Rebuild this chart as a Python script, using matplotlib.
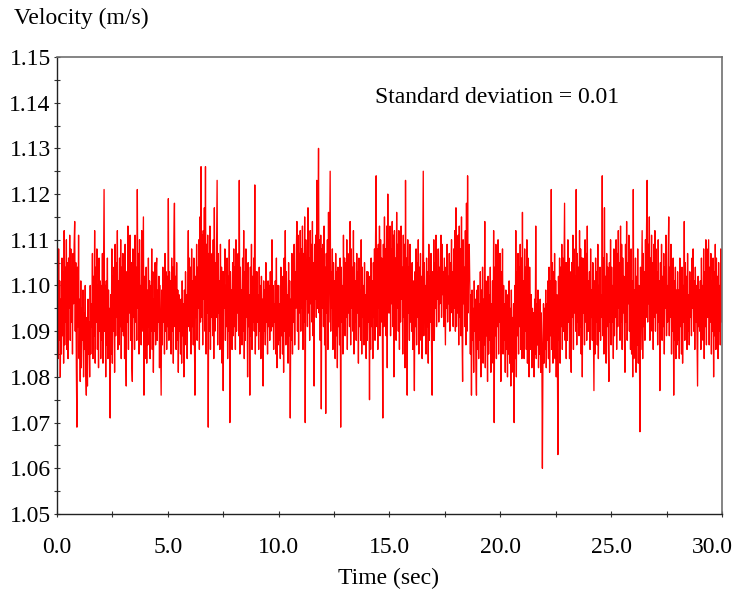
"""Velocity time trace with standard deviation note."""

import matplotlib

matplotlib.use("Agg")

import matplotlib.pyplot as plt
import numpy as np
from matplotlib.ticker import FormatStrFormatter, MultipleLocator, NullFormatter

OUTPUT_PATH = "out.png"
SAMPLE_STEP = 0.025  # sec between samples

# Velocity samples, in thousandths of m/s above 1 m/s.
# One line per second of record.
VEL_0_5 = [
    81, 98, 84, 108, 88, 101, 80, 97, 85, 106, 89, 103, 83, 112, 87, 104, 92, 110, 86, 105,
    84, 106, 95, 111, 88, 108, 92, 104, 85, 107, 96, 109, 114, 90, 105, 82, 69, 104, 91, 111,
    84, 97, 79, 101, 82, 95, 88, 99, 80, 94, 86, 100, 81, 76, 93, 78, 97, 85, 92, 80,
    100, 85, 96, 91, 107, 84, 102, 89, 112, 83, 104, 92, 108, 86, 100, 82, 106, 90, 101, 84,
    100, 88, 107, 83, 104, 121, 90, 100, 80, 101, 87, 106, 84, 99, 91, 95, 71, 98, 85, 108,
    83, 102, 90, 104, 81, 109, 89, 105, 93, 112, 86, 101, 87, 106, 91, 110, 84, 104, 90, 107,
    89, 105, 84, 109, 87, 78, 103, 92, 113, 86, 107, 94, 111, 88, 105, 83, 79, 108, 93, 101,
    86, 111, 92, 104, 88, 121, 95, 107, 85, 110, 92, 100, 87, 112, 90, 103, 115, 76, 102, 84,
    88, 104, 83, 99, 87, 106, 91, 101, 84, 100, 90, 108, 86, 103, 81, 97, 90, 105, 87, 103,
    106, 88, 99, 92, 102, 82, 100, 88, 76, 99, 87, 104, 92, 101, 85, 107, 90, 103, 86, 102,
]
VEL_5_10 = [
    91, 119, 88, 103, 94, 101, 85, 106, 90, 104, 83, 109, 118, 91, 102, 86, 105, 88, 99, 81,
    98, 90, 94, 85, 97, 83, 101, 89, 96, 80, 99, 87, 103, 91, 98, 84, 100, 112, 91, 106,
    90, 104, 85, 108, 91, 101, 87, 106, 89, 76, 102, 93, 109, 88, 104, 95, 110, 86, 115, 92,
    126, 93, 111, 87, 112, 97, 117, 90, 126, 85, 109, 94, 111, 69, 107, 90, 113, 86, 106, 93,
    107, 89, 110, 84, 117, 90, 105, 93, 108, 123, 87, 107, 94, 101, 86, 109, 92, 104, 83, 103,
    77, 103, 95, 108, 88, 100, 91, 106, 84, 102, 90, 110, 70, 103, 93, 99, 86, 105, 89, 108,
    91, 104, 86, 110, 90, 101, 94, 107, 89, 123, 85, 104, 92, 99, 87, 106, 90, 112, 84, 103,
    88, 108, 93, 101, 80, 105, 91, 98, 76, 104, 89, 109, 86, 102, 92, 106, 90, 122, 85, 103,
    89, 103, 92, 98, 86, 104, 90, 100, 84, 102, 93, 97, 78, 101, 90, 99, 87, 105, 92, 96,
    85, 101, 91, 100, 88, 103, 90, 98, 110, 91, 100, 86, 96, 92, 101, 85, 106, 82, 100, 87,
]
VEL_10_15 = [
    100, 88, 96, 84, 104, 89, 99, 85, 102, 81, 106, 90, 112, 87, 103, 92, 98, 83, 105, 89,
    101, 71, 97, 88, 107, 85, 104, 92, 109, 87, 103, 95, 108, 114, 90, 111, 86, 107, 94, 112,
    90, 108, 95, 113, 86, 107, 92, 115, 70, 110, 97, 104, 91, 117, 94, 106, 88, 112, 96, 109,
    92, 114, 89, 105, 78, 109, 97, 111, 93, 123, 95, 108, 130, 94, 110, 88, 111, 73, 108, 95,
    109, 91, 113, 87, 104, 72, 107, 94, 110, 86, 116, 92, 107, 125, 90, 103, 95, 108, 86, 105,
    92, 101, 84, 107, 89, 103, 82, 104, 91, 99, 87, 106, 69, 104, 92, 100, 85, 111, 90, 106,
    89, 105, 93, 110, 86, 107, 94, 102, 91, 114, 87, 108, 95, 104, 90, 112, 85, 105, 92, 101,
    88, 107, 94, 103, 83, 106, 91, 99, 88, 110, 85, 104, 93, 100, 87, 105, 90, 98, 84, 103,
    88, 103, 92, 99, 75, 102, 86, 106, 91, 101, 84, 105, 93, 108, 88, 111, 124, 91, 108, 86,
    109, 95, 113, 89, 110, 92, 106, 96, 71, 109, 91, 115, 95, 108, 89, 113, 82, 120, 94, 110,
]
VEL_15_20 = [
    94, 113, 89, 108, 96, 114, 91, 111, 80, 112, 93, 106, 88, 116, 95, 109, 90, 112, 86, 107,
    92, 113, 97, 104, 85, 111, 93, 109, 82, 123, 90, 106, 76, 110, 94, 104, 88, 109, 92, 102,
    90, 105, 86, 101, 93, 77, 103, 91, 108, 87, 105, 93, 110, 85, 104, 92, 107, 88, 102, 84,
    104, 125, 89, 105, 94, 100, 85, 106, 91, 103, 83, 109, 88, 102, 92, 107, 86, 76, 103, 88,
    110, 88, 105, 95, 111, 91, 103, 97, 108, 92, 104, 96, 107, 111, 93, 109, 98, 103, 91, 106,
    97, 87, 104, 95, 109, 92, 102, 96, 107, 90, 105, 98, 110, 94, 103, 91, 108, 95, 112, 90,
    117, 91, 106, 94, 111, 87, 113, 93, 108, 89, 115, 90, 79, 110, 96, 104, 91, 112, 87, 118,
    90, 124, 94, 108, 109, 100, 85, 98, 76, 99, 88, 95, 81, 101, 90, 97, 83, 76, 99, 86,
    100, 84, 96, 88, 103, 80, 99, 86, 104, 83, 97, 87, 114, 82, 101, 89, 95, 79, 102, 85,
    98, 88, 104, 81, 96, 86, 101, 83, 112, 70, 104, 89, 109, 84, 106, 91, 110, 85, 107, 92,
]
VEL_20_25 = [
    107, 79, 103, 90, 108, 85, 100, 88, 96, 81, 99, 86, 94, 80, 98, 85, 101, 83, 95, 78,
    99, 81, 93, 86, 96, 70, 100, 84, 112, 80, 103, 89, 107, 85, 104, 91, 109, 86, 106, 84,
    116, 88, 101, 84, 108, 90, 104, 86, 110, 83, 106, 91, 80, 104, 92, 86, 98, 82, 95, 87,
    94, 80, 97, 85, 113, 84, 96, 87, 99, 82, 93, 85, 97, 81, 94, 86, 60, 85, 96, 83,
    95, 86, 99, 82, 96, 88, 101, 84, 104, 81, 101, 89, 121, 86, 105, 83, 103, 90, 107, 84,
    101, 80, 98, 86, 63, 102, 88, 106, 83, 104, 91, 109, 86, 106, 90, 103, 118, 88, 105, 84,
    105, 88, 110, 92, 106, 84, 103, 90, 81, 105, 93, 111, 86, 108, 94, 102, 90, 121, 87, 107,
    92, 104, 89, 112, 91, 108, 85, 106, 80, 106, 94, 103, 87, 110, 92, 107, 88, 113, 90, 101,
    90, 103, 86, 108, 93, 99, 88, 105, 91, 77, 101, 85, 106, 92, 103, 87, 109, 84, 100, 90,
    104, 88, 98, 93, 124, 89, 106, 85, 117, 90, 102, 83, 107, 91, 104, 87, 79, 105, 92, 110,
]
VEL_25_30 = [
    87, 104, 92, 100, 84, 108, 89, 103, 93, 110, 86, 107, 91, 112, 95, 105, 88, 113, 92, 109,
    86, 106, 94, 102, 89, 81, 109, 92, 114, 88, 105, 96, 111, 90, 107, 86, 108, 85, 101, 80,
    121, 84, 99, 88, 106, 81, 102, 87, 108, 83, 100, 89, 68, 104, 86, 98, 112, 84, 107, 91,
    103, 88, 110, 93, 113, 123, 92, 109, 96, 115, 88, 106, 94, 111, 90, 105, 86, 109, 93, 112,
    90, 108, 94, 103, 87, 110, 92, 101, 77, 105, 93, 109, 88, 102, 91, 107, 85, 104, 95, 111,
    89, 100, 92, 106, 115, 89, 104, 93, 109, 85, 102, 90, 106, 76, 101, 88, 104, 84, 99, 87,
    103, 88, 99, 84, 106, 91, 101, 85, 104, 83, 100, 92, 114, 88, 105, 94, 102, 86, 107, 90,
    98, 87, 103, 93, 101, 89, 106, 95, 108, 90, 101, 86, 104, 92, 100, 88, 78, 102, 91, 99,
    90, 101, 86, 106, 92, 100, 88, 108, 84, 103, 91, 110, 87, 108, 93, 102, 110, 87, 104, 92,
    107, 85, 101, 90, 106, 80, 103, 89, 109, 86, 106, 91, 102, 84, 105, 90, 100, 87, 108, 92,
    104,
]

X_TICKS = [0, 5, 10, 15, 20, 25, 30]
STD_NOTE = "Standard deviation = 0.01"
TRACE_COLOR = "#ff0000"
FONT_SIZE = 17


def load_trace():
    milli = np.array(VEL_0_5 + VEL_5_10 + VEL_10_15 + VEL_15_20 + VEL_20_25 + VEL_25_30)
    velocity = 1.0 + milli / 1000.0
    time = np.arange(len(velocity)) * SAMPLE_STEP
    return time, velocity


def style_axes(ax):
    ax.set_xlim(0, 30)
    ax.set_ylim(1.05, 1.15)
    ax.set_xticks(X_TICKS)
    ax.xaxis.set_minor_locator(MultipleLocator(2.5))
    ax.yaxis.set_major_locator(MultipleLocator(0.01))
    ax.yaxis.set_minor_locator(MultipleLocator(0.005))
    ax.xaxis.set_major_formatter(NullFormatter())
    ax.yaxis.set_major_formatter(FormatStrFormatter("%.2f"))
    ax.tick_params(axis="both", which="both", direction="inout", color="#333333",
                   labelsize=FONT_SIZE, width=0.8)
    ax.tick_params(axis="both", which="major", length=5)
    ax.tick_params(axis="both", which="minor", length=4)
    ax.tick_params(axis="y", pad=2)
    for side in ["left", "bottom"]:
        ax.spines[side].set_color("#222222")
        ax.spines[side].set_linewidth(1.0)
    for side in ["top", "right"]:
        ax.spines[side].set_color("#707070")
        ax.spines[side].set_linewidth(1.2)

    # x labels drawn by hand so the last one can sit inside the figure edge
    for tick in X_TICKS:
        shift = -10 if tick == X_TICKS[-1] else 0
        ax.annotate(f"{tick:.1f}", xy=(tick, 0), xycoords=("data", "axes fraction"),
                    xytext=(shift, -34), textcoords="offset pixels",
                    ha="center", va="center", fontsize=FONT_SIZE)


def main():
    plt.rcParams["font.family"] = ["Liberation Serif", "DejaVu Serif"]
    time, velocity = load_trace()

    fig = plt.figure(figsize=(7.36, 5.94), dpi=100)
    ax = fig.add_axes([0.0774, 0.1347, 0.9035, 0.7694])
    ax.plot(time, velocity, color=TRACE_COLOR, linewidth=0.95)
    style_axes(ax)

    ax.text(0.478, 0.912, STD_NOTE, transform=ax.transAxes, fontsize=FONT_SIZE,
            ha="left", va="center")
    fig.text(14 / 736, 1 - 18 / 594, "Velocity (m/s)", fontsize=FONT_SIZE,
             ha="left", va="center")
    fig.text(388 / 736, 1 - 578 / 594, "Time (sec)", fontsize=FONT_SIZE,
             ha="center", va="center")

    fig.savefig(OUTPUT_PATH, dpi=100)
    plt.close(fig)


if __name__ == "__main__":
    main()
